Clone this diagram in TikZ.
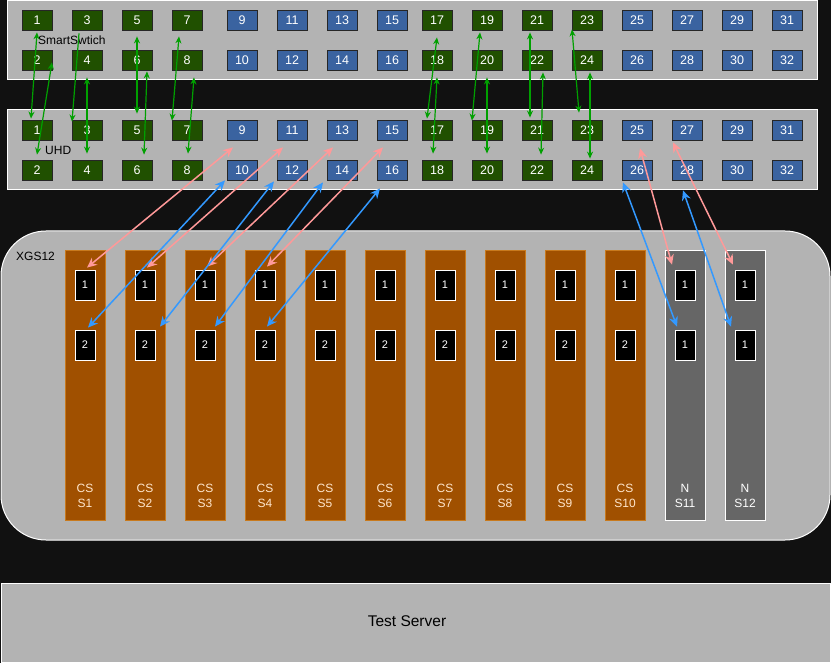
\documentclass[tikz,border=0pt]{standalone}
\usepackage{fontspec}
\setmainfont{Liberation Sans}
\usetikzlibrary{arrows.meta,calc,positioning}

\definecolor{bgdark}{HTML}{111111}
\definecolor{panelgray}{HTML}{B3B3B3}
\definecolor{portgreen}{HTML}{205000}
\definecolor{portblue}{HTML}{3A63A0}
\definecolor{cardbrown}{HTML}{A05000}
\definecolor{cardedge}{HTML}{C87A1E}
\definecolor{cardtext}{HTML}{FFE6CC}
\definecolor{ngray}{HTML}{666666}
\definecolor{linkgreen}{HTML}{00A000}
\definecolor{linkpink}{HTML}{FF9999}
\definecolor{linkblue}{HTML}{3399FF}

\begin{document}
\begin{tikzpicture}[x=1pt,y=-1pt,
        panel/.style={draw=white,fill=panelgray,line width=1pt},
        port/.style={draw=black!85,fill=#1,line width=0.8pt,minimum width=30pt,
            minimum height=20pt,inner sep=0pt,text=white,font=\fontsize{12.5}{14}\selectfont},
        card/.style={draw=#1,line width=0.8pt,minimum width=40pt,minimum height=270pt,inner sep=0pt},
        slotport/.style={draw=white,fill=black,line width=0.8pt,minimum width=20pt,
            minimum height=30pt,inner sep=0pt,text=white,font=\fontsize{11}{13}\selectfont},
        cardlabel/.style={text=#1,align=center,inner sep=0pt,font=\fontsize{12}{15}\selectfont},
        tag/.style={anchor=west,inner sep=0pt,text=black,font=\fontsize{12}{14}\selectfont},
        glink/.style={linkgreen,line width=1.2pt,>={Stealth[length=7pt,width=6pt]},<->},
        plink/.style={linkpink,line width=1.5pt,>={Stealth[length=10pt,width=9pt]},<->},
        blink/.style={linkblue,line width=1.5pt,>={Stealth[length=10pt,width=9pt]},<->}]

    \useasboundingbox (0,0) rectangle (831,663);
    \fill[bgdark] (0,0) rectangle (831,663);

    \draw[panel] (7,1) rectangle (817,80);
    \draw[panel] (7,110) rectangle (817,190);
    \draw[panel,rounded corners=45pt] (1,231) rectangle (830,540);
    \draw[panel] (1,583) rectangle (830,662);

    \foreach \c/\px in {1/37,2/87,3/137,4/187,5/242,6/292,7/342,8/392,
            9/437,10/487,11/537,12/587,13/637,14/687,15/737,16/787} {
            \pgfmathtruncatemacro{\odd}{2*\c-1}
            \pgfmathtruncatemacro{\even}{2*\c}
            \pgfmathtruncatemacro{\isgreen}{(\c<5)||((\c>8)&&(\c<13))}
            \ifnum\isgreen=1 \def\pcol{portgreen}\else\def\pcol{portblue}\fi
            \node[port=\pcol] (ss\odd) at (\px,20) {\odd};
            \node[port=\pcol] (ss\even) at (\px,60) {\even};
            \node[port=\pcol] (uhd\odd) at (\px,130) {\odd};
            \node[port=\pcol] (uhd\even) at (\px,170) {\even};
        }

    \node[tag] (sslab) at (38,40) {SmartSwtich};
    \node[tag] (uhdlab) at (45,150) {UHD};
    \node[tag] (xgslab) at (16,256) {XGS12};
    \node[text=black,font=\fontsize{15.5}{18}\selectfont] (server) at (407,621) {Test Server};

    \foreach \i in {1,...,12} {
            \pgfmathtruncatemacro{\cx}{25+60*\i}
            \ifnum\i<11
                \node[card=cardedge,fill=cardbrown] (slot\i) at (\cx,385) {};
                \node[slotport] (slot\i-1) at (\cx,285) {1};
                \node[slotport] (slot\i-2) at (\cx,345) {2};
                \node[cardlabel=cardtext] (slot\i lab) at (\cx,496) {CS\\S\i};
            \else
                \node[card=white,fill=ngray] (slot\i) at (\cx,385) {};
                \node[slotport] (slot\i-1) at (\cx,285) {1};
                \node[slotport] (slot\i-2) at (\cx,345) {1};
                \node[cardlabel=white] (slot\i lab) at (\cx,496) {N\\S\i};
            \fi
        }

    \foreach \n/\ax/\ay/\bx/\by in {1/0/2/-6/-1,2/15/-8/0/-5,4/0/7/0/-6,5/0/6/0/-6,
            6/10/1/7/-5,7/-8/6/-15/1,8/7/7/1/-6,17/0/7/-10/-1,18/0/7/-4/-6,
            19/-7/2/-15/1,20/0/7/0/-6,21/-7/2/-7/-2,22/6/2/4/-5,23/-15/-1/-8/-7,24/3/2/3/-1}
    \draw[glink] ($(ss\n.south)+(\ax,\ay)$) -- ($(uhd\n.north)+(\bx,\by)$);
    \draw[glink,->] ($(ss3.south)+(-8,3)$) -- ($(uhd3.north)+(-15,2)$);

    \foreach \n/\s/\ax/\ay/\bx/\by in {9/1/-9/7/2/-2,11/2/-9/7/2/-2,13/3/-9/7/2/-3,
            15/4/-9/7/2/-3,25/11/3/8/-13/-5,27/12/-14/2/-12/-5}
    \draw[plink] ($(uhd\n.south)+(\ax,\ay)$) -- ($(slot\s-1.north)+(\bx,\by)$);

    \foreach \n/\s/\ax/\ay/\bx/\by in {10/1/-17/0/3/-2,12/2/-18/1/15/-3,14/3/-19/2/10/-3,
            16/4/-12/8/2/-3,26/11/-14/2/-8/-3,28/12/-4/10/-14/-3}
    \draw[blink] ($(uhd\n.south)+(\ax,\ay)$) -- ($(slot\s-2.north)+(\bx,\by)$);
\end{tikzpicture}
\end{document}
